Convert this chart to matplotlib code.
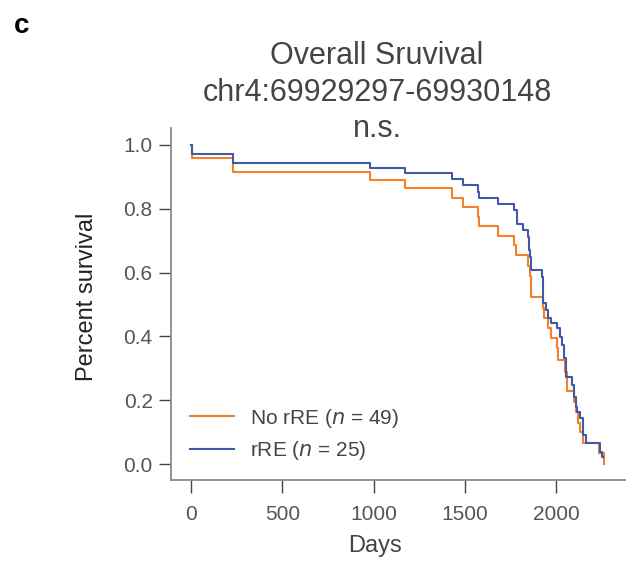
import numpy as np
import matplotlib.pyplot as plt

plt.rcParams['font.family'] = ['Liberation Sans', 'DejaVu Sans']

# Kaplan-Meier step curves (days, survival after the step)
no_rre_days = [0, 3, 228, 979, 1171, 1431, 1488, 1574, 1579, 1683, 1771, 1779,
               1846, 1855, 1863, 1930, 1936, 1954, 1973, 2004, 2009, 2049, 2059,
               2100, 2108, 2122, 2133, 2150, 2238, 2264]
no_rre_surv = [1.0, 0.958, 0.914, 0.890, 0.864, 0.834, 0.806, 0.774, 0.746, 0.715,
               0.687, 0.655, 0.620, 0.590, 0.524, 0.488, 0.457, 0.425, 0.394, 0.363,
               0.326, 0.289, 0.229, 0.195, 0.164, 0.128, 0.100, 0.065, 0.034, 0.0]

rre_days = [0, 3, 228, 979, 1171, 1431, 1488, 1574, 1579, 1683, 1771, 1784, 1821,
            1845, 1854, 1857, 1863, 1921, 1930, 1948, 1957, 1972, 2004, 2022, 2035,
            2046, 2055, 2090, 2100, 2108, 2113, 2132, 2150, 2163, 2242, 2252, 2256]
rre_surv = [1.0, 0.972, 0.943, 0.929, 0.911, 0.892, 0.875, 0.854, 0.835, 0.815,
            0.796, 0.752, 0.734, 0.713, 0.671, 0.650, 0.608, 0.585, 0.504, 0.483,
            0.457, 0.441, 0.425, 0.399, 0.373, 0.331, 0.274, 0.248, 0.211, 0.180,
            0.164, 0.143, 0.090, 0.065, 0.039, 0.022, 0.022]

labels = ['No rRE ($\\it{n}$ = 49)', 'rRE ($\\it{n}$ = 25)']
colors = ['#f5802a', '#3e5aa9']
title_lines = ['Overall Sruvival', 'chr4:69929297-69930148', 'n.s.']

fig = plt.figure(figsize=(6.28, 5.62), dpi=100)
ax = fig.add_axes([0.2718, 0.1459, 0.7232, 0.6263])

ax.step(no_rre_days, no_rre_surv, where='post', color=colors[0], lw=1.5, label=labels[0])
ax.step(rre_days, rre_surv, where='post', color=colors[1], lw=1.5, label=labels[1])

ax.set_xlim(-113, 2378)
ax.set_ylim(-0.05, 1.053)
ax.set_xticks([0, 500, 1000, 1500, 2000])
ax.set_yticks([0.0, 0.2, 0.4, 0.6, 0.8, 1.0])
ax.set_yticklabels(['0.0', '0.2', '0.4', '0.6', '0.8', '1.0'])

for s in ['top', 'right']:
    ax.spines[s].set_visible(False)
for s in ['left', 'bottom']:
    ax.spines[s].set_color('#8a8a8a')
    ax.spines[s].set_linewidth(1.3)
ax.tick_params(length=9, width=1.0, color='#444444', labelsize=15,
               labelcolor='#555555')
ax.tick_params(axis='x', pad=9)
ax.tick_params(axis='y', pad=4)

fig.text(0.597, 1 - 546 / 562, 'Days', ha='center', va='center',
         fontsize=17, color='#444444')
fig.text(87 / 628, 1 - 297 / 562, 'Percent survival', ha='center', va='center',
         rotation=90, fontsize=17, color='#222222')

for i, line in enumerate(title_lines):
    fig.text(377 / 628, 1 - (56 + 36.5 * i) / 562, line, ha='center', va='center',
             fontsize=22, color='#444444')

fig.text(22 / 628, 1 - 26 / 562, 'c', ha='center', va='center', fontsize=20,
         fontweight='bold', color='black')

ax.legend(loc='lower left', bbox_to_anchor=(190 / 628, (562 - 462) / 562),
          bbox_transform=fig.transFigure, frameon=False, fontsize=15,
          handlelength=2.1, handletextpad=0.8, labelspacing=0.45,
          borderpad=0, borderaxespad=0, labelcolor='#444444')

fig.savefig('out.png', dpi=100)
